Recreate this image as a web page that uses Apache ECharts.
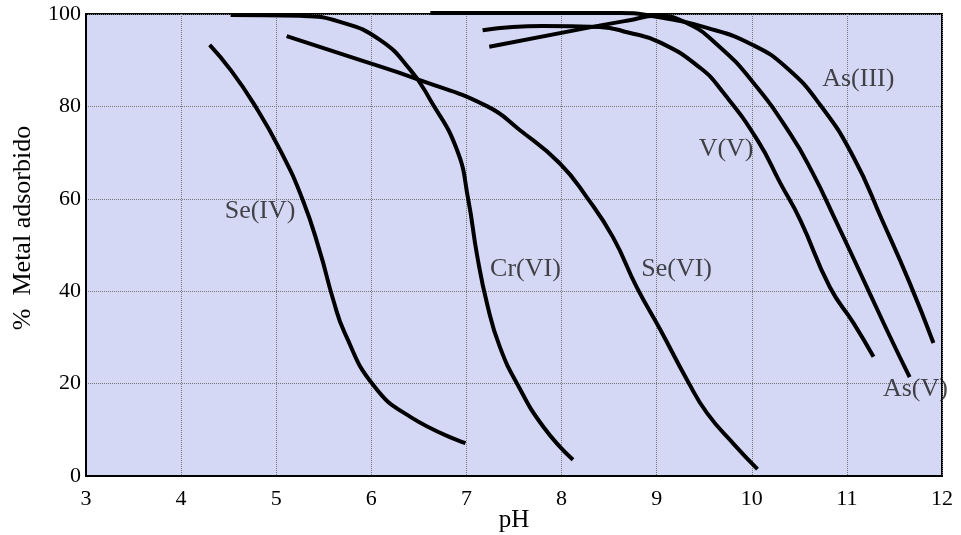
<!DOCTYPE html>
<html>
<head>
<meta charset="utf-8">
<script src="https://cdn.jsdelivr.net/npm/echarts@6/dist/echarts.min.js"></script>
<style>
  html, body { margin: 0; padding: 0; background: #fff; }
  #chart { width: 961px; height: 535px; }
</style>
</head>
<body>
<div id="chart"></div>
<script>
// curves: [pH, % adsorbed]
const seIV = [[4.30, 93.3], [4.52, 87.9], [4.76, 80.7], [5.04, 70.6], [5.28, 59.7], [5.46, 48.5], [5.60, 38.1], [5.72, 31.0], [6.02, 19.7], [6.41, 12.8], [6.99, 7.1]];
const crVI = [[4.52, 99.8], [5.25, 99.6], [5.67, 98.3], [6.09, 94.4], [6.41, 87.9], [6.62, 81.4], [6.90, 70.6], [7.02, 59.7], [7.11, 48.0], [7.22, 37.0], [7.35, 28.0], [7.54, 19.7], [7.81, 10.6], [8.12, 3.5]];
const seVI = [[5.11, 95.2], [5.78, 90.7], [6.51, 85.7], [7.22, 80.0], [7.56, 74.9], [7.98, 67.7], [8.27, 60.2], [8.54, 51.7], [8.79, 40.9], [9.04, 31.6], [9.32, 20.8], [9.53, 13.6], [9.82, 6.7], [10.06, 1.5]];
const vV = [[7.17, 96.5], [7.80, 97.4], [8.40, 97.2], [8.70, 96.0], [9.04, 93.8], [9.46, 88.3], [9.70, 83.0], [10.06, 72.7], [10.30, 63.4], [10.51, 55.4], [10.82, 40.9], [11.07, 33.1], [11.28, 25.8]];
const asV = [[7.24, 92.9], [8.27, 97.0], [8.70, 98.6], [9.00, 99.6], [9.32, 98.0], [9.64, 93.3], [10.01, 85.3], [10.40, 74.2], [10.64, 65.6], [10.88, 55.4], [11.21, 40.9], [11.45, 30.3], [11.66, 21.4]];
const asIII = [[6.62, 100.2], [8.62, 100.2], [9.00, 99.4], [9.53, 97.0], [10.01, 93.3], [10.37, 88.3], [10.72, 80.3], [11.07, 69.0], [11.37, 55.4], [11.66, 41.8], [11.91, 28.8]];

const curveLabels = [
  { name: 'Se(IV)', value: [4.83, 57.3] },
  { name: 'Cr(VI)', value: [7.62, 44.8] },
  { name: 'Se(VI)', value: [9.21, 44.8] },
  { name: 'V(V)', value: [9.73, 70.8] },
  { name: 'As(III)', value: [11.12, 85.9] },
  { name: 'As(V)', value: [11.72, 18.8] }
];

const serif = '"Liberation Serif", "DejaVu Serif", serif';
const chart = echarts.init(document.getElementById('chart'));

function curve(name, data) {
  return {
    name: name,
    type: 'line',
    data: data,
    smooth: 0.5,
    symbol: 'none',
    clip: false,
    lineStyle: { color: '#000', width: 4 },
    z: 3
  };
}

chart.setOption({
  animation: false,
  textStyle: { fontFamily: serif },
  grid: {
    left: 86, right: 19, top: 14, bottom: 59,
    outerBoundsMode: 'none',
    show: true,
    backgroundColor: '#d4d8f4',
    borderColor: '#000',
    borderWidth: 2
  },
  xAxis: {
    type: 'value',
    min: 3, max: 12, interval: 1,
    name: 'pH',
    nameLocation: 'middle',
    nameGap: 32,
    nameMoveOverlap: false,
    nameTextStyle: { fontFamily: serif, fontSize: 25, color: '#000' },
    axisLine: { lineStyle: { color: '#000', width: 2 } },
    axisTick: { show: false },
    axisLabel: { fontFamily: serif, fontSize: 22, color: '#000', margin: 12 },
    splitLine: { show: true, lineStyle: { color: '#777', type: 'dotted', width: 1 } }
  },
  yAxis: {
    type: 'value',
    min: 0, max: 100, interval: 20,
    name: '%  Metal adsorbido',
    nameLocation: 'middle',
    nameGap: 50,
    nameMoveOverlap: false,
    nameTextStyle: { fontFamily: serif, fontSize: 26, color: '#000', padding: [0, 0, 0, 34] },
    axisLine: { show: true, lineStyle: { color: '#000', width: 2 } },
    axisTick: { show: false },
    axisLabel: { fontFamily: serif, fontSize: 22, color: '#000', margin: 5 },
    splitLine: { show: true, lineStyle: { color: '#777', type: 'dotted', width: 1 } }
  },
  series: [
    curve('Se(IV)', seIV),
    curve('Cr(VI)', crVI),
    curve('Se(VI)', seVI),
    curve('V(V)', vV),
    curve('As(V)', asV),
    curve('As(III)', asIII),
    {
      type: 'scatter',
      data: curveLabels,
      symbolSize: 0,
      z: 4,
      label: {
        show: true,
        position: 'inside',
        formatter: '{b}',
        fontFamily: serif,
        fontSize: 26,
        color: '#1a1a1a'
      }
    }
  ]
});
</script>
</body>
</html>
